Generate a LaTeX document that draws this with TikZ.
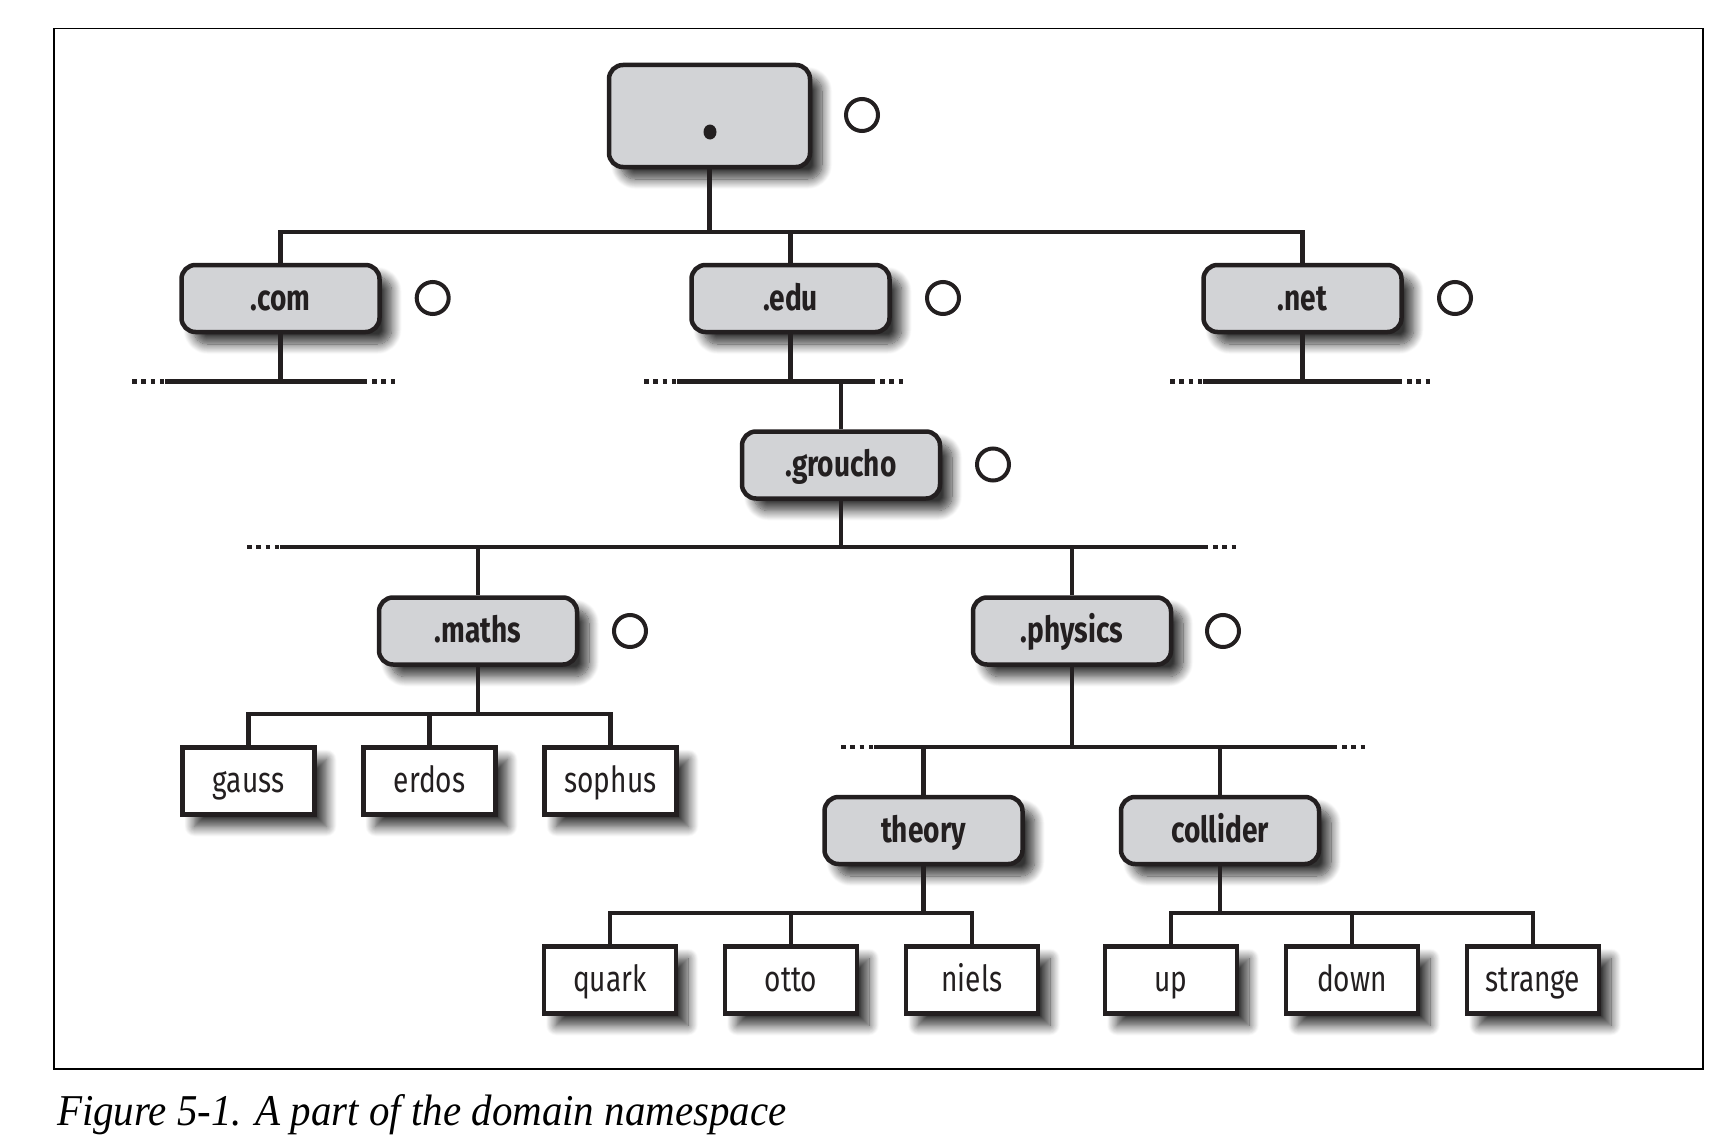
\documentclass[tikz,border=0pt]{standalone}
\usepackage{fontspec}
\newfontfamily\labfont[FakeStretch=0.78]{Fira Sans}
\newfontfamily\capfont[FakeStretch=0.93]{Liberation Serif}
\usetikzlibrary{shadows.blur}
\definecolor{ink}{RGB}{35,31,32}
\definecolor{boxgray}{RGB}{210,211,214}

\begin{document}
\begin{tikzpicture}[x=1pt, y=-1pt, line width=4.2pt,
   dom/.style={draw=ink, fill=boxgray, line width=4.5pt, rounded corners=14pt,
     minimum width=198pt, minimum height=67pt, inner sep=0pt, text=ink,
     text height=27pt, text depth=4pt,
     font=\fontsize{36}{40}\labfont\bfseries,
     blur shadow={shadow xshift=12pt, shadow yshift=-12pt, shadow blur radius=10pt,
       shadow blur steps=14, shadow opacity=80}},
   host/.style={draw=ink, fill=white, line width=4.5pt, minimum width=132pt,
     minimum height=67pt, inner sep=0pt, text=ink,
     text height=27pt, text depth=4pt,
     font=\fontsize{36}{40}\labfont,
     blur shadow={shadow xshift=12pt, shadow yshift=-12pt, shadow blur radius=10pt,
       shadow blur steps=14, shadow opacity=80}},
   ring/.style={circle, draw=ink, line width=4pt, minimum size=32pt, inner sep=0pt},
   wire/.style={draw=ink, line width=4.2pt},
   trail/.style={draw=ink, line width=4.5pt, dash pattern=on 4.5pt off 4.8pt}]
  \useasboundingbox (0,0) rectangle (1722,1140);
  \draw[line width=1.5pt] (54,28.5) rectangle (1703,1069);
  % root
  \node[dom, minimum width=201pt, minimum height=102pt](root) at (709.5,116){};
  \fill[ink] (710,132) ellipse (6.5 and 7.5);
  \node[ring](r0) at (862,115){};
  % top-level domains
  \node[dom](com) at (280.5,298.5){.com}; \node[ring](rcom) at (432.7,298){};
  \node[dom](edu) at (790.5,298.5){.edu}; \node[ring](redu) at (943,298){};
  \node[dom](net) at (1302.5,298.5){.net}; \node[ring](rnet) at (1455,298){};
  \coordinate (j0) at (709.5,232);
  \draw[wire] (root.south) -- (j0) -| (com.north) (j0) -| (edu.north) (j0) -| (net.north);
  % open ends below .com, .edu, .net
  \coordinate (j1) at (280.5,381.5); \coordinate (c1) at (165,381.5); \coordinate (c2) at (367,381.5);
  \draw[wire] (com.south) -- (j1) (c1) -- (c2);
  \draw[trail] (132,381.5) -- (c1) (372,381.5) -- (395,381.5);
  \coordinate (j2) at (790.5,381.5); \coordinate (e1) at (677,381.5); \coordinate (e2) at (875,381.5);
  \draw[wire] (edu.south) -- (j2) (e1) -- (e2);
  \draw[trail] (644,381.5) -- (e1) (880,381.5) -- (903,381.5);
  \coordinate (j3) at (1302.5,381.5); \coordinate (n1) at (1203,381.5); \coordinate (n2) at (1402,381.5);
  \draw[wire] (net.south) -- (j3) (n1) -- (n2);
  \draw[trail] (1170,381.5) -- (n1) (1407,381.5) -- (1430,381.5);
  % groucho
  \node[dom](groucho) at (841,465){.groucho}; \node[ring](rgro) at (993,464.5){};
  \draw[wire] (841,381.5) -- (groucho.north);
  \node[dom](maths) at (478,631){.maths}; \node[ring](rmat) at (630,631){};
  \node[dom](physics) at (1072,631){.physics}; \node[ring](rphy) at (1223,631){};
  \coordinate (j4) at (841,547); \coordinate (g1) at (280,547); \coordinate (g2) at (1208,547);
  \draw[wire] (groucho.south) -- (j4) (g1) -- (g2) (maths.north) -- (maths.north|-j4)
    (physics.north) -- (physics.north|-j4);
  \draw[trail] (247,547) -- (g1) (1213,547) -- (1236,547);
  % maths hosts
  \node[host](gauss) at (248.5,781){gauss};
  \node[host](erdos) at (429.5,781){erdos};
  \node[host](sophus) at (610.5,781){sophus};
  \coordinate (j5) at (478,714);
  \draw[wire] (maths.south) -- (j5) (j5) -| (gauss.north) (j5) -| (erdos.north) (j5) -| (sophus.north);
  % physics subdomains
  \node[dom](theory) at (923.5,830.5){theory};
  \node[dom](collider) at (1220,830.5){collider};
  \coordinate (j6) at (1072,747); \coordinate (p1) at (874,747); \coordinate (p2) at (1337,747);
  \draw[wire] (physics.south) -- (j6) (p1) -- (p2) (theory.north) -- (theory.north|-j6)
    (collider.north) -- (collider.north|-j6);
  \draw[trail] (841,747) -- (p1) (1342,747) -- (1365,747);
  % leaf hosts
  \node[host](quark) at (610,980){quark};
  \node[host](otto) at (791,980){otto};
  \node[host](niels) at (972,980){niels};
  \node[host](up) at (1171,980){up};
  \node[host](down) at (1352,980){down};
  \node[host](strange) at (1533,980){strange};
  \coordinate (j7) at (923.5,913); \coordinate (j8) at (1220,913);
  \draw[wire] (theory.south) -- (j7) (j7) -| (quark.north) (j7) -| (otto.north) (j7) -| (niels.north);
  \draw[wire] (collider.south) -- (j8) (j8) -| (up.north) (j8) -| (down.north) (j8) -| (strange.north);
  % caption
  \node[anchor=base west, inner sep=0pt, font=\fontsize{44}{48}\capfont\itshape](cap) at (55,1125)
    {Figure 5-1. A part of the domain namespace};
\end{tikzpicture}
\end{document}
